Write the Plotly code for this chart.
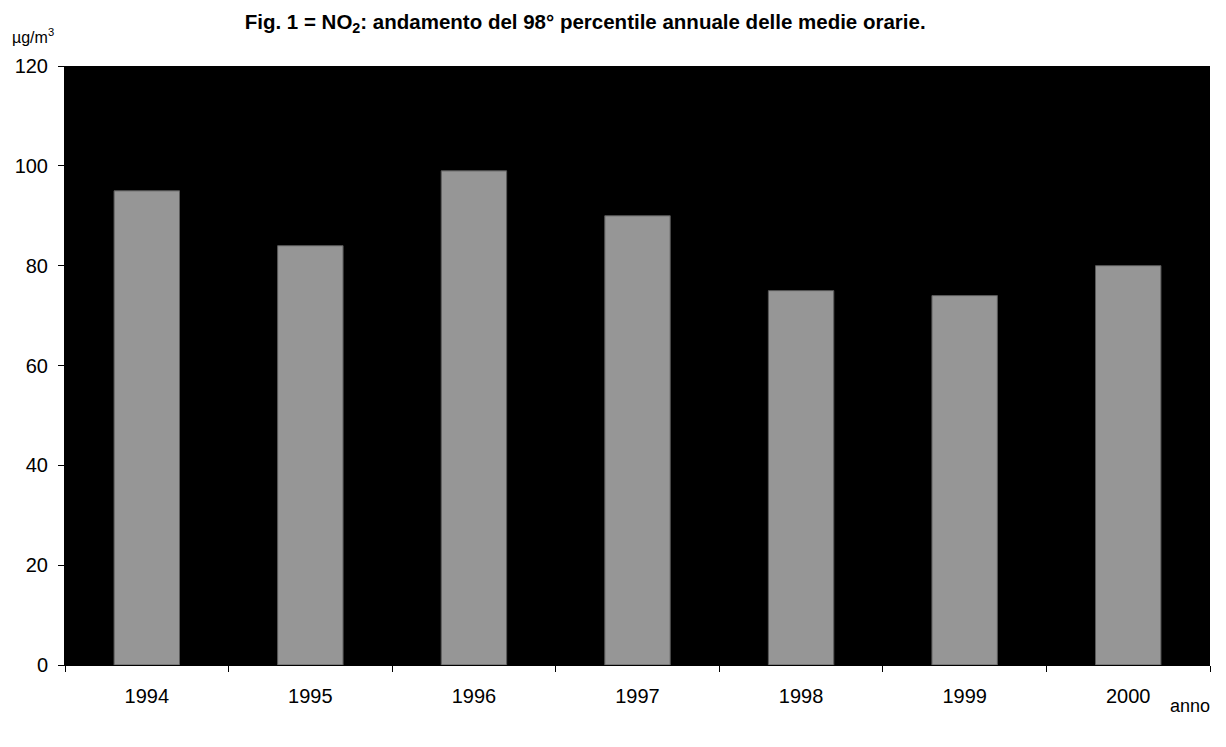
import plotly.graph_objects as go

years = ["1994", "1995", "1996", "1997", "1998", "1999", "2000"]
values = [95, 84, 99, 90, 75, 74, 80]
y_ticks = [0, 20, 40, 60, 80, 100, 120]

font_family = "Liberation Sans, Arial, sans-serif"

# page body has an 8px default margin; the figure is sized to fit the window
W, H = 1210, 731

fig = go.Figure(
    go.Bar(
        x=years,
        y=values,
        marker=dict(color="#969696", line=dict(color="#5a5a5a", width=1)),
        hoverinfo="x+y",
    )
)

fig.update_layout(
    width=W,
    height=H,
    margin=dict(l=57, r=8, t=58, b=74),
    paper_bgcolor="white",
    plot_bgcolor="black",
    bargap=0.6,
    showlegend=False,
    font=dict(family=font_family, color="black", size=20),
    title=dict(
        text="<b>Fig. 1 = NO<sub>2</sub>: andamento del 98° percentile annuale delle medie orarie.</b>",
        x=0.477,
        xanchor="center",
        y=1 - 14 / H,
        yanchor="middle",
        font=dict(family=font_family, size=20.5, color="black"),
    ),
    xaxis=dict(
        type="category",
        tickson="boundaries",
        ticks="outside",
        ticklen=6,
        tickcolor="black",
        showline=True,
        linecolor="black",
        showgrid=False,
        tickfont=dict(size=20),
        ticklabelstandoff=13,
    ),
    yaxis=dict(
        range=[0, 120],
        tickvals=y_ticks,
        ticks="outside",
        ticklen=6,
        tickcolor="black",
        showline=True,
        linecolor="black",
        showgrid=False,
        zeroline=False,
        tickfont=dict(size=20),
        ticklabelstandoff=6,
    ),
    annotations=[
        dict(
            text="µg/m<sup>3</sup>",
            xref="paper", yref="paper",
            x=-55 / (W - 65), y=1.03,
            xanchor="left", yanchor="bottom",
            showarrow=False,
            font=dict(size=16),
        ),
        dict(
            text="anno",
            xref="paper", yref="paper",
            x=1.002, y=-0.048,
            xanchor="right", yanchor="top",
            showarrow=False,
            font=dict(size=18),
        ),
    ],
)

fig.write_html("out.html")
